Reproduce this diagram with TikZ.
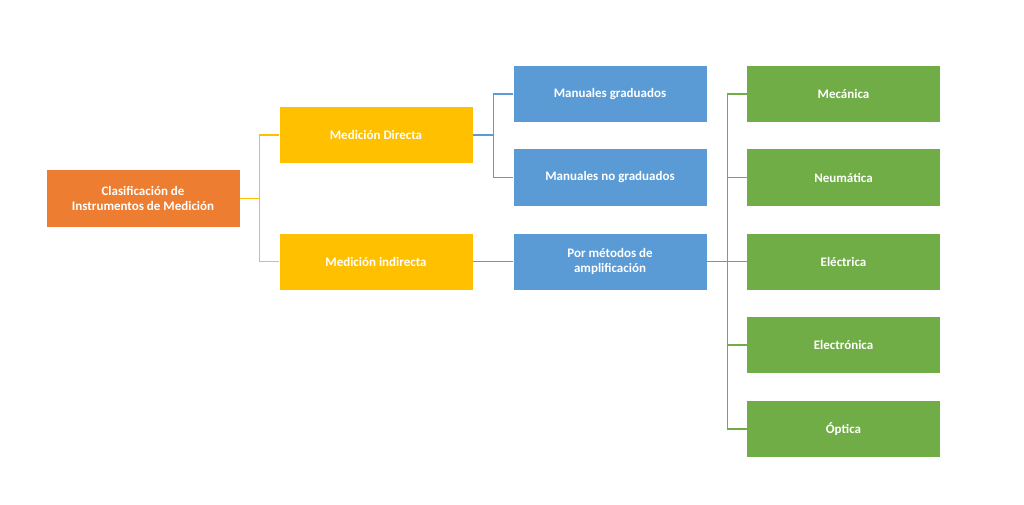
\documentclass[tikz,border=0pt]{standalone}
\usepackage{fontspec}
\setmainfont{Carlito}
\begin{document}
\begin{tikzpicture}[x=1pt,y=-1pt,
  box/.style={minimum width=193pt,minimum height=56pt,text=white,font=\bfseries\fontsize{13}{15}\selectfont,align=center,inner sep=2pt},
  conn/.style={line width=1.2pt}]
\definecolor{cor}{HTML}{ED7D31}\definecolor{cye}{HTML}{FFC000}
\definecolor{cbl}{HTML}{5B9BD5}\definecolor{cgr}{HTML}{70AD47}
\useasboundingbox[fill=white] (0,0) rectangle (1024,505);
\node[box,fill=cor] (o) at (143,198.5) {Clasificación de\\Instrumentos de Medición};
\node[box,fill=cye] (y1) at (376,135) {Medición Directa};
\node[box,fill=cye] (y2) at (376,261.5) {Medición indirecta};
\node[box,fill=cbl] (b1) at (610,94) {Manuales graduados};
\node[box,fill=cbl] (b2) at (610,177.5) {Manuales no graduados};
\node[box,fill=cbl] (b3) at (610,261.5) {Por métodos de\\amplificación};
\node[box,fill=cgr] (g1) at (843.5,94) {Mecánica};
\node[box,fill=cgr] (g2) at (843.5,177.5) {Neumática};
\node[box,fill=cgr] (g3) at (843.5,261.5) {Eléctrica};
\node[box,fill=cgr] (g4) at (843.5,345) {Electrónica};
\node[box,fill=cgr] (g5) at (843.5,429) {Óptica};
\draw[conn,cye] (o.east) -- ++(20,0) coordinate (oj);
\draw[conn,cye] (y1.west) -| (oj) |- (y2.west);
\draw[conn,cbl] (y1.east) -- ++(21,0) coordinate (yj);
\draw[conn,cbl] (b1.west) -| (yj) |- (b2.west);
\draw[conn,cbl] (y2.east) -- (b3.west);
\draw[conn,cgr] (b3.east) -- ++(21,0) coordinate (bj);
\draw[conn,cgr] (g1.west) -| (bj) |- (g5.west);
\foreach \g in {g2,g3,g4} \draw[conn,cgr] (bj |- \g.west) -- (\g.west);
\end{tikzpicture}
\end{document}
